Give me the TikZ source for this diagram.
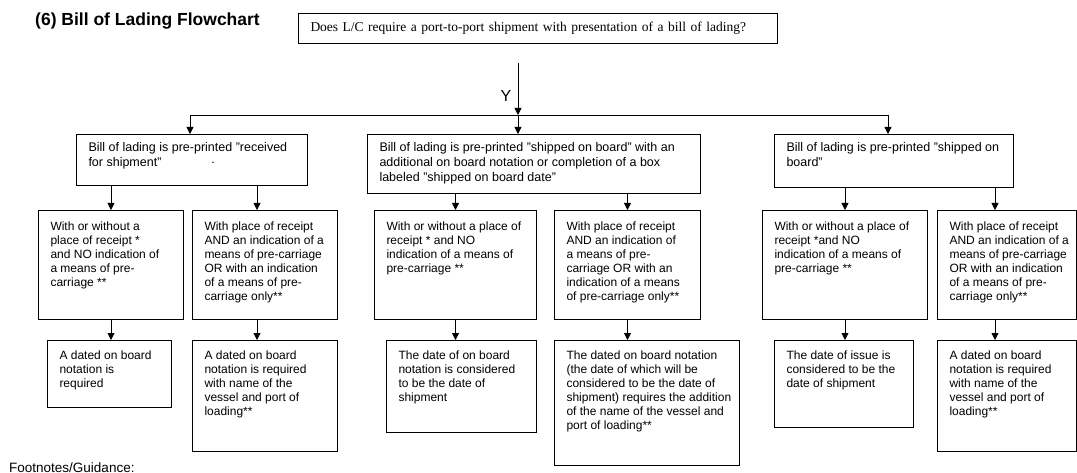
\documentclass[tikz,border=0pt]{standalone}
\usepackage{fontspec}
\setmainfont{Liberation Sans}
\newfontfamily\qfont{Liberation Serif}
\usetikzlibrary{arrows.meta,calc}
\tikzset{
  box/.style={draw=black, line width=1pt, fill=white},
  arr/.style={draw=black, line width=0.8pt, -{Triangle[length=7pt,width=7pt]}},
  conn/.style={draw=black, line width=0.8pt},
}
% #1 name, #2 x, #3 y, #4 width, #5 height, #6 top gap, #7 font size, #8 line skip, #9 text
\newcommand\flowbox[9]{%
  \node[box, anchor=north west, minimum width=#4pt, minimum height=#5pt,
        inner xsep=12pt, inner ysep=0pt] (#1) at (#2,#3)
  {\parbox[t][#5pt][t]{\dimexpr#4pt-24pt\relax}{\vspace*{#6pt}%
   \fontsize{#7pt}{#8pt}\selectfont
   \begin{tabular}[t]{@{}l@{}}#9\end{tabular}}};}
\begin{document}
\begin{tikzpicture}[x=1pt,y=-1pt]
\useasboundingbox (0,0) rectangle (1077,473);
% title
\node[anchor=base west, inner sep=0pt, font=\fontsize{17.5pt}{20pt}\selectfont\bfseries] (title) at (35,26) {(6) Bill of Lading Flowchart};
% question
\node[box, anchor=north west, minimum width=479pt, minimum height=30pt, text width=455pt,
      align=left, inner xsep=12pt, font=\qfont\fontsize{13.5pt}{15pt}\selectfont] (q) at (298,13)
  {Does L/C require a port-to-port shipment with presentation of a bill of lading?};
% level 1
\flowbox{L1}{76}{134}{231}{51}{6.5}{12.5}{15}{Bill of lading is pre-printed "received\\ for shipment"\hspace*{50pt}\raisebox{3pt}{.}}
\flowbox{L2}{367}{134}{333}{59}{6.5}{12.5}{15}{Bill of lading is pre-printed "shipped on board" with an\\ additional on board notation or completion of a box\\ labeled "shipped on board date"}
\flowbox{L3}{774}{134}{239}{53}{6.5}{12.5}{15}{Bill of lading is pre-printed "shipped on\\ board"}
% level 2
\flowbox{A1}{38}{210}{145}{109}{10}{12}{14}{With or without a\\ place of receipt *\\ and NO indication of\\ a means of pre-\\ carriage **}
\flowbox{A2}{192}{210}{145}{109}{10}{12}{14}{With place of receipt\\ AND an indication of a\\ means of pre-carriage\\ OR with an indication\\ of a means of pre-\\ carriage only**}
\flowbox{B1}{374}{210}{162}{109}{10}{12}{14}{With or without a place of\\ receipt * and NO\\ indication of a means of\\ pre-carriage **}
\flowbox{B2}{554}{210}{146}{109}{10}{12}{14}{With place of receipt\\ AND an indication of\\ a means of pre-\\ carriage OR with an\\ indication of a means\\ of pre-carriage only**}
\flowbox{C1}{762}{210}{165}{109}{10}{12}{14}{With or without a place of\\ receipt *and NO\\ indication of a means of\\ pre-carriage **}
\flowbox{C2}{937}{210}{139}{109}{10}{12}{14}{With place of receipt\\ AND an indication of a\\ means of pre-carriage\\ OR with an indication\\ of a means of pre-\\ carriage only**}
% level 3
\flowbox{A1b}{47}{340}{124}{67}{9}{12}{14}{A dated on board\\ notation is\\ required}
\flowbox{A2b}{192}{340}{145}{111}{9}{12}{14}{A dated on board\\ notation is required\\ with name of the\\ vessel and port of\\ loading**}
\flowbox{B1b}{386}{340}{150}{92}{9}{12}{14}{The date of on board\\ notation is considered\\ to be the date of\\ shipment}
\flowbox{B2b}{554}{340}{185}{125}{9}{12}{14}{The dated on board notation\\ (the date of which will be\\ considered to be the date of\\ shipment) requires the addition\\ of the name of the vessel and\\ port of loading**}
\flowbox{C1b}{774}{340}{139}{87}{9}{12}{14}{The date of issue is\\ considered to be the\\ date of shipment}
\flowbox{C2b}{937}{340}{139}{111}{9}{12}{14}{A dated on board\\ notation is required\\ with name of the\\ vessel and port of\\ loading**}
% footnote
\node[anchor=base west, inner sep=0pt, font=\fontsize{13.5pt}{15pt}\selectfont] (fn) at (9,472) {Footnotes/Guidance:};
% connectors
\coordinate (top) at (518,63);
\coordinate (jm) at (518,115);
\coordinate (jl) at (190,115);
\coordinate (jr) at (888,115);
\node[anchor=center, inner sep=0pt, font=\fontsize{16pt}{18pt}\selectfont] (ylab) at (506,96) {Y};
\draw[arr] (top) -- (jm);
\draw[conn] (jl) -- (jr);
\draw[arr] (jl) -- (jl |- L1.north);
\draw[arr] (jm) -- (jm |- L2.north);
\draw[arr] (jr) -- (jr |- L3.north);
\coordinate (a2x) at ($(A2.north)+(-8,0)$);
\coordinate (c2x) at ($(C2.north)+(-12,0)$);
\draw[arr] (A1.north |- L1.south) -- (A1.north);
\draw[arr] (a2x |- L1.south) -- (a2x);
\draw[arr] (B1.north |- L2.south) -- (B1.north);
\draw[arr] (B2.north |- L2.south) -- (B2.north);
\draw[arr] (C1.north |- L3.south) -- (C1.north);
\draw[arr] (c2x |- L3.south) -- (c2x);
\draw[arr] (A1.south) -- (A1.south |- A1b.north);
\draw[arr] (a2x |- A2.south) -- (a2x |- A2b.north);
\draw[arr] (B1.south) -- (B1.south |- B1b.north);
\draw[arr] (B2.south) -- (B2.south |- B2b.north);
\draw[arr] (C1.south) -- (C1.south |- C1b.north);
\draw[arr] (c2x |- C2.south) -- (c2x |- C2b.north);
\end{tikzpicture}
\end{document}
